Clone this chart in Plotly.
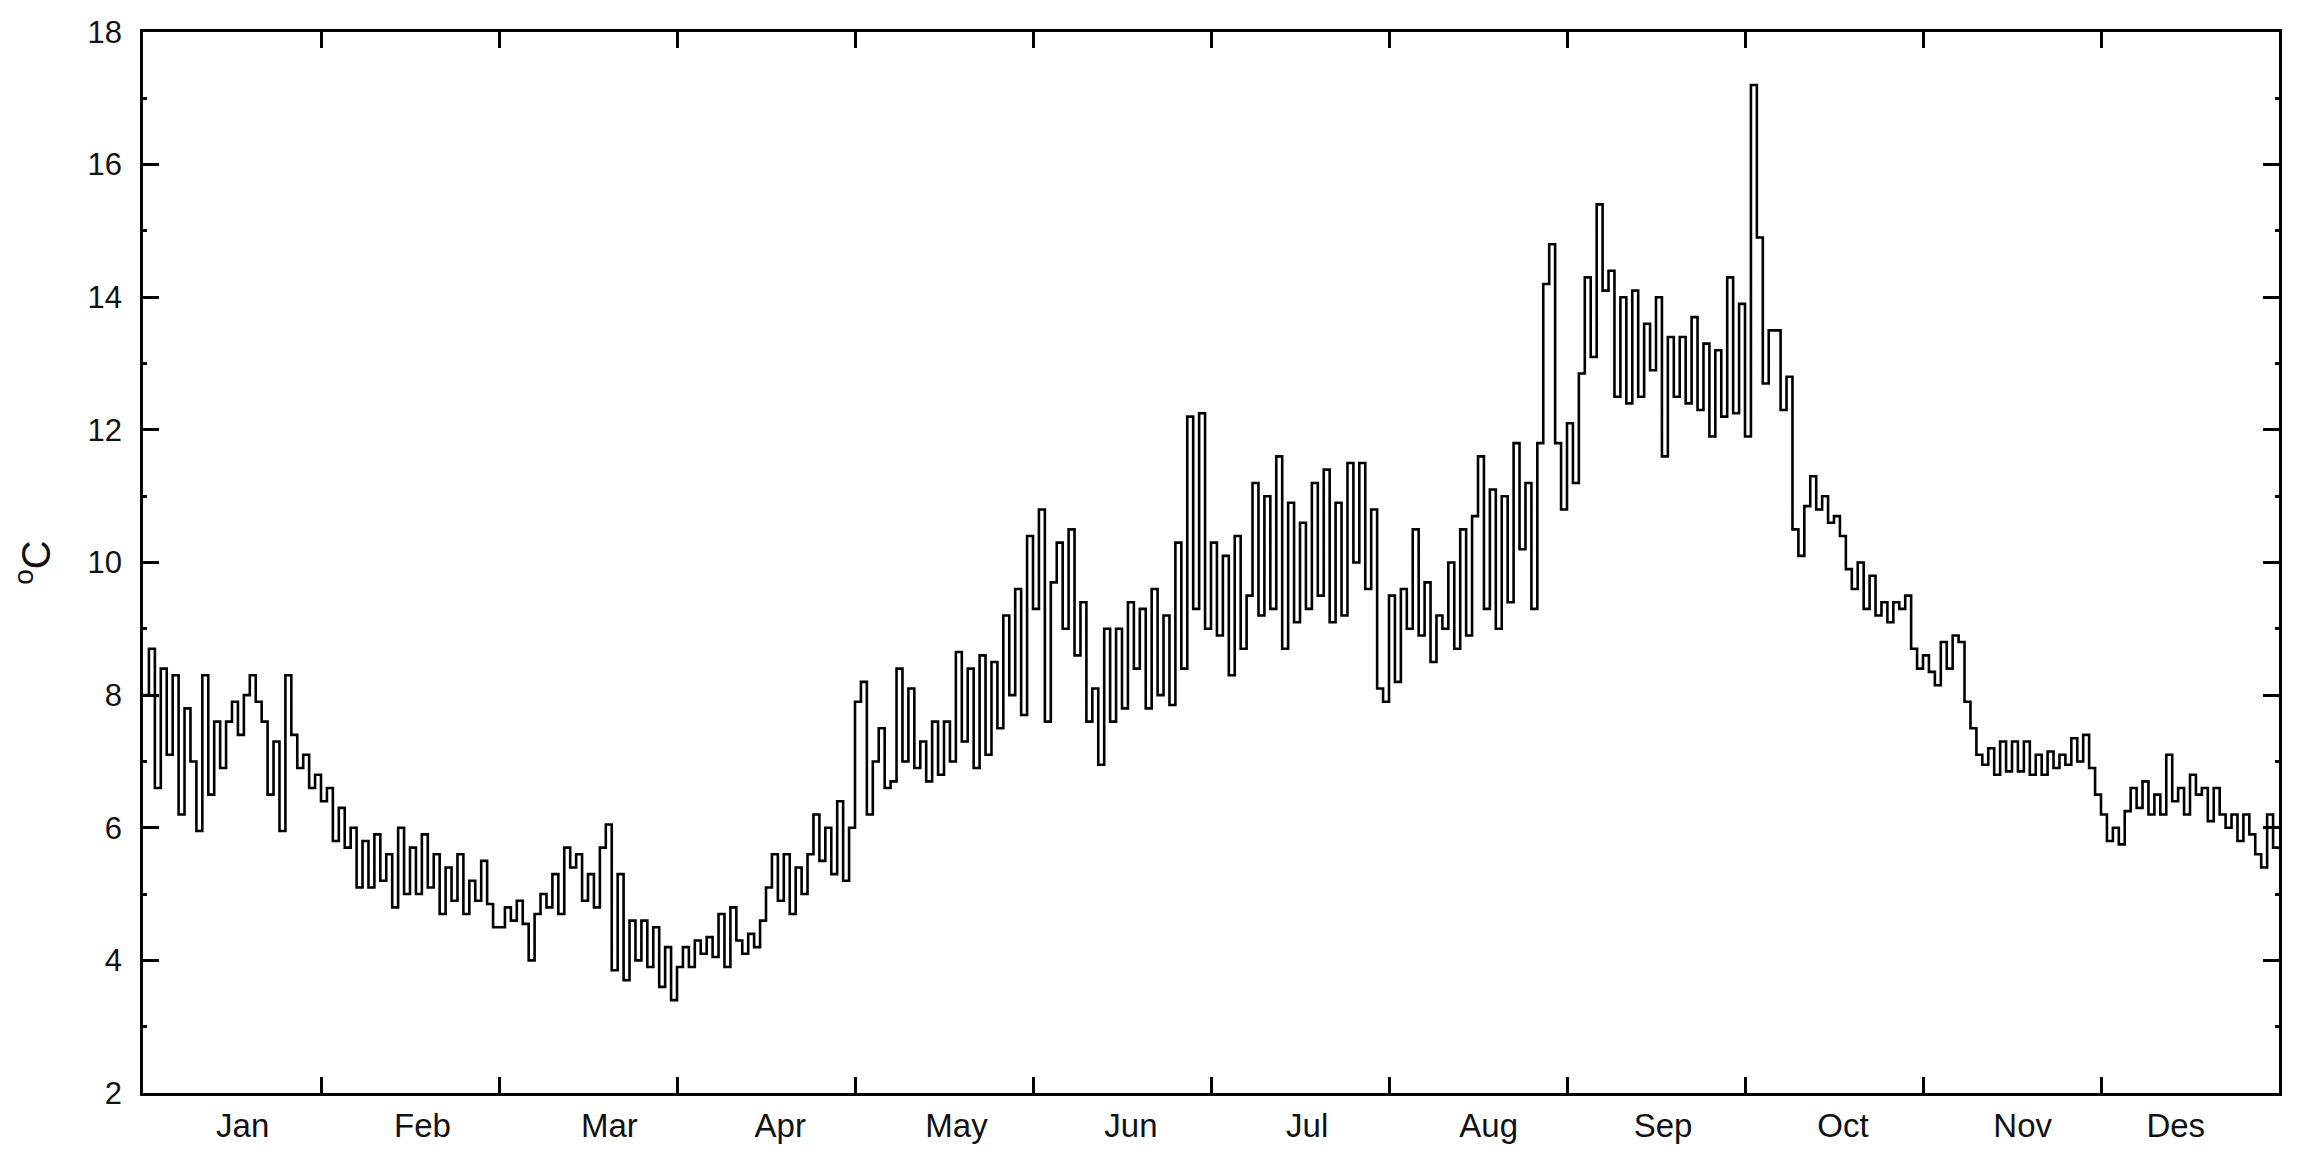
import numpy as np
import plotly.graph_objects as go

months = ["Jan", "Feb", "Mar", "Apr", "May", "Jun", "Jul", "Aug", "Sep", "Oct", "Nov", "Des"]
# where each month name sits inside its month (fraction of the month)
label_frac = [0.56, 0.57, 0.62, 0.58, 0.57, 0.55, 0.54, 0.56, 0.54, 0.55, 0.56, 0.42]

# daily water temperature (deg C), 30 steps per month
jan = [8.0, 8.7, 6.6, 8.4, 7.1, 8.3, 6.2, 7.8, 7.0, 5.95, 8.3, 6.5, 7.6, 6.9, 7.6,
       7.9, 7.4, 8.0, 8.3, 7.9, 7.6, 6.5, 7.3, 5.95, 8.3, 7.4, 6.9, 7.1, 6.6, 6.8]
feb = [6.4, 6.6, 5.8, 6.3, 5.7, 6.0, 5.1, 5.8, 5.1, 5.9, 5.2, 5.6, 4.8, 6.0, 5.0,
       5.7, 5.0, 5.9, 5.1, 5.6, 4.7, 5.4, 4.9, 5.6, 4.7, 5.2, 4.9, 5.5, 4.85, 4.5]
mar = [4.5, 4.8, 4.6, 4.9, 4.55, 4.0, 4.7, 5.0, 4.8, 5.3, 4.7, 5.7, 5.4, 5.6, 4.9,
       5.3, 4.8, 5.7, 6.05, 3.85, 5.3, 3.7, 4.6, 4.0, 4.6, 3.9, 4.5, 3.6, 4.2, 3.4]
apr = [3.9, 4.2, 3.9, 4.3, 4.1, 4.35, 4.05, 4.7, 3.9, 4.8, 4.3, 4.1, 4.4, 4.2, 4.6,
       5.1, 5.6, 4.9, 5.6, 4.7, 5.4, 5.0, 5.6, 6.2, 5.5, 6.0, 5.3, 6.4, 5.2, 6.0]
may = [7.9, 8.2, 6.2, 7.0, 7.5, 6.6, 6.7, 8.4, 7.0, 8.1, 6.9, 7.3, 6.7, 7.6, 6.8,
       7.6, 7.0, 8.65, 7.3, 8.4, 6.9, 8.6, 7.1, 8.5, 7.5, 9.2, 8.0, 9.6, 7.7, 10.4]
jun = [9.3, 10.8, 7.6, 9.7, 10.3, 9.0, 10.5, 8.6, 9.4, 7.6, 8.1, 6.95, 9.0, 7.6, 9.0,
       7.8, 9.4, 8.4, 9.3, 7.8, 9.6, 8.0, 9.2, 7.85, 10.3, 8.4, 12.2, 9.3, 12.25, 9.0]
jul = [10.3, 8.9, 10.1, 8.3, 10.4, 8.7, 9.5, 11.2, 9.2, 11.0, 9.3, 11.6, 8.7, 10.9, 9.1,
       10.6, 9.3, 11.2, 9.5, 11.4, 9.1, 10.9, 9.2, 11.5, 10.0, 11.5, 9.6, 10.8, 8.1, 7.9]
aug = [9.5, 8.2, 9.6, 9.0, 10.5, 8.9, 9.7, 8.5, 9.2, 9.0, 10.0, 8.7, 10.5, 8.9, 10.7,
       11.6, 9.3, 11.1, 9.0, 11.0, 9.4, 11.8, 10.2, 11.2, 9.3, 11.8, 14.2, 14.8, 11.8, 10.8]
sep = [12.1, 11.2, 12.85, 14.3, 13.1, 15.4, 14.1, 14.4, 12.5, 14.0, 12.4, 14.1, 12.5, 13.6, 12.9,
       14.0, 11.6, 13.4, 12.5, 13.4, 12.4, 13.7, 12.3, 13.3, 11.9, 13.2, 12.2, 14.3, 12.25, 13.9]
okt = [11.9, 17.2, 14.9, 12.7, 13.5, 13.5, 12.3, 12.8, 10.5, 10.1, 10.85, 11.3, 10.8, 11.0, 10.6,
       10.7, 10.4, 9.9, 9.6, 10.0, 9.3, 9.8, 9.2, 9.4, 9.1, 9.4, 9.3, 9.5, 8.7, 8.4]
nov = [8.6, 8.35, 8.15, 8.8, 8.4, 8.9, 8.8, 7.9, 7.5, 7.1, 6.95, 7.2, 6.8, 7.3, 6.85,
       7.3, 6.85, 7.3, 6.8, 7.1, 6.8, 7.15, 6.9, 7.1, 6.95, 7.35, 7.0, 7.4, 6.9, 6.5]
des = [6.2, 5.8, 6.0, 5.75, 6.25, 6.6, 6.3, 6.7, 6.2, 6.5, 6.2, 7.1, 6.4, 6.6, 6.2,
       6.8, 6.5, 6.6, 6.1, 6.6, 6.2, 6.0, 6.2, 5.8, 6.2, 5.9, 5.6, 5.4, 6.2, 5.7]

series = [jan, feb, mar, apr, may, jun, jul, aug, sep, okt, nov, des]

# x in month units: month index + fraction of month
x = []
y = []
for m, vals in enumerate(series):
    n = len(vals)
    x.extend(m + np.arange(n) / n)
    y.extend(vals)
# carry last step to the end of the year
x.append(len(series))
y.append(y[-1])

font = "Liberation Sans, Arial, sans-serif"

fig = go.Figure()
fig.add_trace(go.Scatter(x=x, y=y, mode="lines", line_shape="hv",
                         line=dict(color="black", width=2.6), showlegend=False))

# page body has an 8px margin, so the figure is a bit smaller than the window
fig.update_layout(
    width=2299, height=1152,
    margin=dict(l=135, r=28, t=24, b=67),
    plot_bgcolor="white", paper_bgcolor="white",
    font=dict(family=font, size=31, color="#111"),
)

fig.update_xaxes(
    range=[0, 12],
    tickmode="array",
    tickvals=[i + f for i, f in enumerate(label_frac)],
    ticktext=months,
    tickfont=dict(size=33),
    ticks="inside", ticklen=0,
    ticklabelstandoff=2,
    minor=dict(tickmode="linear", tick0=0, dtick=1, ticks="inside",
               ticklen=16, tickwidth=2.5, tickcolor="black"),
    showline=True, linecolor="black", linewidth=2.5, mirror="ticks",
    showgrid=False, zeroline=False, automargin=False,
)

fig.update_yaxes(
    range=[2, 18],
    tickmode="linear", tick0=2, dtick=2,
    ticks="inside", ticklen=16, tickwidth=2.5, tickcolor="black",
    ticklabelstandoff=12,
    minor=dict(tickmode="linear", tick0=1, dtick=2, ticks="inside",
               ticklen=4, tickwidth=2.5, tickcolor="black"),
    showline=True, linecolor="black", linewidth=2.5, mirror="ticks",
    showgrid=False, zeroline=False, automargin=False,
    title=dict(text="<sup>o</sup>C", font=dict(size=40), standoff=29),
)

fig.write_html("out.html")
